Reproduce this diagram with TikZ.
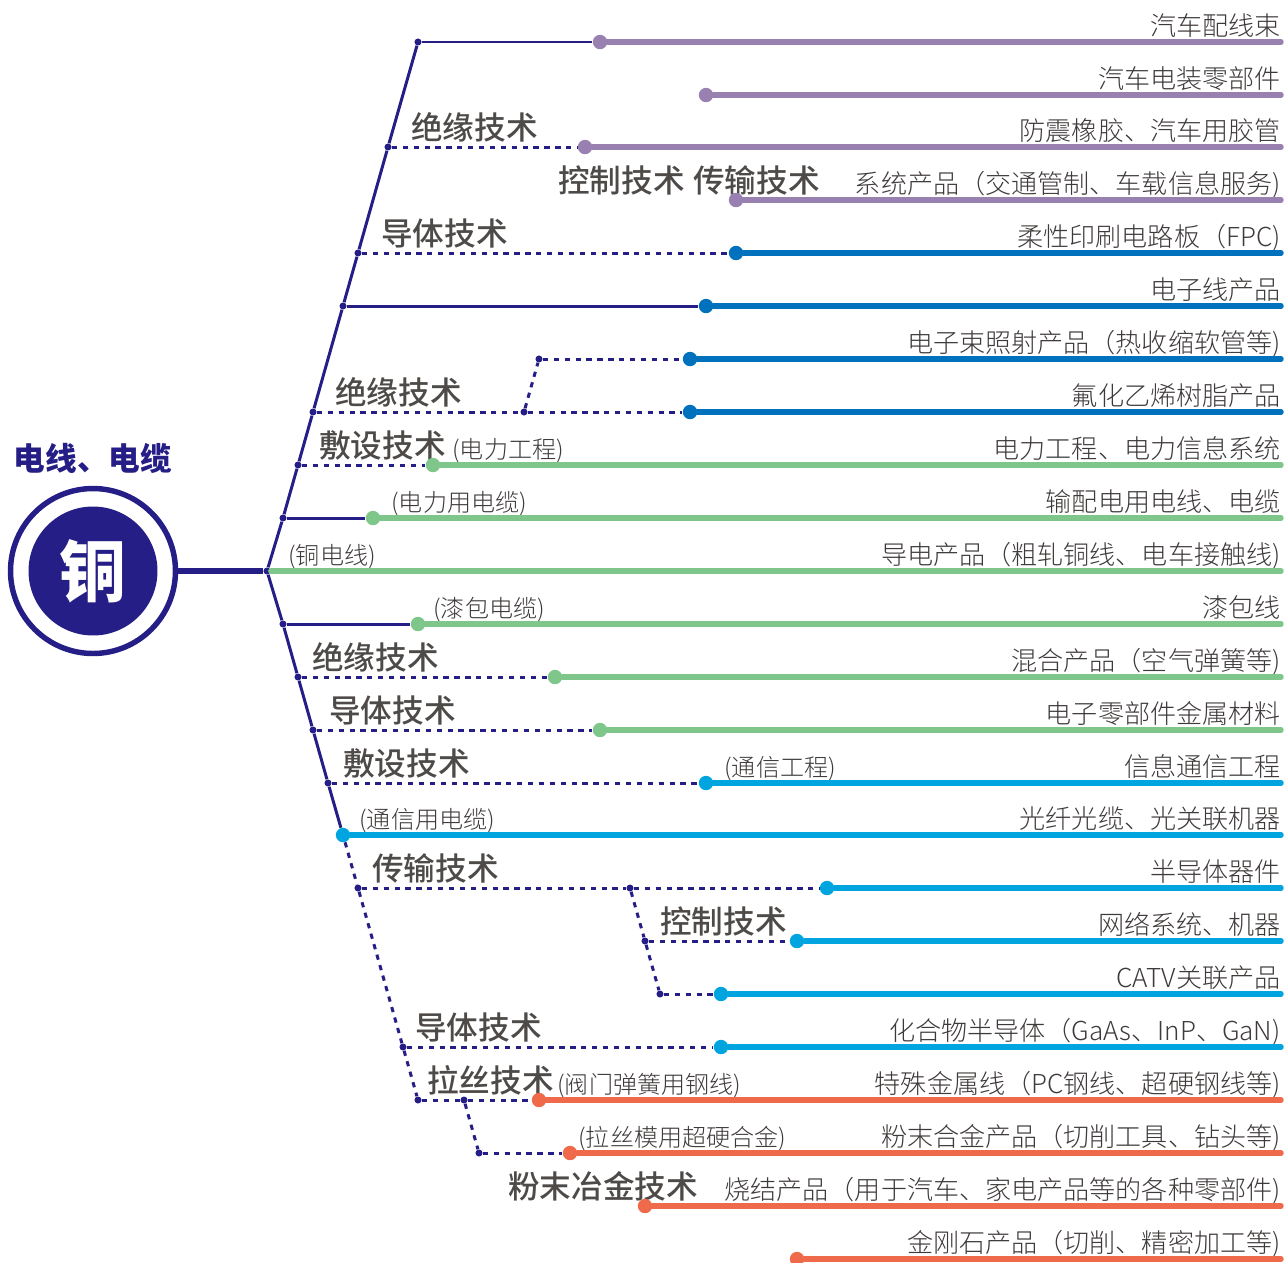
\documentclass[tikz,border=0pt]{standalone}
\usepackage{fontspec}
\setmainfont{Noto Sans CJK SC}
\newfontfamily\labelfont{Noto Sans CJK SC Light}
\newfontfamily\headfont{Noto Sans CJK SC Medium}
\usetikzlibrary{positioning}
\definecolor{navy}{RGB}{36,30,134}
\definecolor{lilac}{RGB}{152,128,176}
\definecolor{deepblue}{RGB}{0,113,188}
\definecolor{leaf}{RGB}{127,198,138}
\definecolor{skyblue}{RGB}{0,165,223}
\definecolor{coral}{RGB}{238,106,75}
\definecolor{headgray}{RGB}{77,74,72}
\definecolor{labelgray}{RGB}{62,58,57}
\tikzset{
  joint/.style={circle, fill=navy, inner sep=0pt, minimum size=4pt},
  bulb/.style={circle, fill=#1, inner sep=0pt, minimum size=8.2pt},
  stem/.style={navy, line width=1.7pt},
  dots/.style={navy, line width=1.7pt, dash pattern=on 3pt off 3.2pt},
  band/.style={#1, line width=3.1pt, line cap=round},
  head/.style={anchor=base west, inner sep=0pt, yshift=0.03cm, text=headgray, font=\headfont\fontsize{18pt}{20pt}\selectfont},
  prod/.style={anchor=base east, inner sep=0pt, yshift=0.02cm, text=labelgray, font=\labelfont\fontsize{14.85pt}{17pt}\selectfont},
  note/.style={anchor=base west, inner sep=0pt, yshift=0.02cm, text=labelgray, font=\labelfont\fontsize{13.7pt}{15pt}\selectfont}
}
\begin{document}
\begin{tikzpicture}[x=0.02cm, y=-0.02cm]
        \useasboundingbox (0,0) rectangle (1285,1262);

        % centre
        \node[circle, draw=navy, line width=3.1pt, fill=white, minimum size=3.3cm, inner sep=0pt] at (93,571) (ring) {};
        \node[circle, fill=navy, minimum size=2.58cm, inner sep=0pt, text=white, font=\bfseries\fontsize{38pt}{40pt}\selectfont] at (93,571) (core) {铜};
        \node[anchor=base, inner sep=0pt, text=navy, font=\bfseries\fontsize{18pt}{20pt}\selectfont] at (93,470) (title) {电线、电缆};

        % right hand texts
        \node[prod] at (1281,36) (p42) {汽车配线束};
        \node[prod] at (1281,89) (p95) {汽车电装零部件};
        \node[prod] at (1281,141) (p147) {防震橡胶、汽车用胶管};
        \node[prod] at (1281,194) (p200) {系统产品（交通管制、车载信息服务)};
        \node[prod] at (1281,247) (p253) {柔性印刷电路板（FPC)};
        \node[prod] at (1281,300) (p306) {电子线产品};
        \node[prod] at (1281,353) (p359) {电子束照射产品（热收缩软管等)};
        \node[prod] at (1281,406) (p412) {氟化乙烯树脂产品};
        \node[prod] at (1281,459) (p465) {电力工程、电力信息系统};
        \node[prod] at (1281,512) (p518) {输配电用电线、电缆};
        \node[prod] at (1281,565) (p571) {导电产品（粗轧铜线、电车接触线)};
        \node[prod] at (1281,618) (p624) {漆包线};
        \node[prod] at (1281,671) (p677) {混合产品（空气弹簧等)};
        \node[prod] at (1281,724) (p730) {电子零部件金属材料};
        \node[prod] at (1281,777) (p783) {信息通信工程};
        \node[prod] at (1281,829) (p835) {光纤光缆、光关联机器};
        \node[prod] at (1281,882) (p888) {半导体器件};
        \node[prod] at (1281,935) (p941) {网络系统、机器};
        \node[prod] at (1281,988) (p994) {CATV关联产品};
        \node[prod] at (1281,1041) (p1047) {化合物半导体（GaAs、InP、GaN)};
        \node[prod] at (1281,1094) (p1100) {特殊金属线（PC钢线、超硬钢线等)};
        \node[prod] at (1281,1147) (p1153) {粉末合金产品（切削工具、钻头等)};
        \node[prod] at (1281,1200) (p1206) {烧结产品（用于汽车、家电产品等的各种零部件)};
        \node[prod] at (1281,1253) (p1259) {金刚石产品（切削、精密加工等)};

        % technique headings
        \node[head] at (411,141) (h147) {绝缘技术};
        \node[head] at (558,194) (h200a) {控制技术};
        \node[head] at (693,194) (h200b) {传输技术};
        \node[head] at (381,247) (h253) {导体技术};
        \node[head] at (335,406) (h412) {绝缘技术};
        \node[head] at (319,459) (h465) {敷设技术};
        \node[head] at (312,671) (h677) {绝缘技术};
        \node[head] at (329,724) (h730) {导体技术};
        \node[head] at (343,777) (h783) {敷设技术};
        \node[head] at (372,882) (h888) {传输技术};
        \node[head] at (660,935) (h941) {控制技术};
        \node[head] at (415,1041) (h1047) {导体技术};
        \node[head] at (427,1094) (h1100) {拉丝技术};
        \node[head] at (508,1200) (h1206) {粉末冶金技术};

        % small notes
        \node[note] at (452,459) (n465) {(电力工程)};
        \node[note] at (391,512) (n518) {(电力用电缆)};
        \node[note] at (288,565) (n571) {(铜电线)};
        \node[note] at (433,618) (n624) {(漆包电缆)};
        \node[note] at (724,777) (n783) {(通信工程)};
        \node[note] at (359,829) (n835) {(通信用电缆)};
        \node[note] at (557,1094) (n1100) {(阀门弹簧用钢线)};
        \node[note] at (578,1147) (n1153) {(拉丝模用超硬合金)};

        % spine joints
        \node[joint] at (267,571) (j0) {};
        \node[joint] at (418,42) (u42) {};
        \node[joint] at (388,147) (u147) {};
        \node[joint] at (358,253) (u253) {};
        \node[joint] at (343,306) (u306) {};
        \node[joint] at (313,412) (u412) {};
        \node[joint] at (524,412) (v412) {};
        \node[joint] at (539,359) (v359) {};
        \node[joint] at (298,465) (u465) {};
        \node[joint] at (283,518) (u518) {};
        \node[joint] at (283,624) (d624) {};
        \node[joint] at (298,677) (d677) {};
        \node[joint] at (313,730) (d730) {};
        \node[joint] at (328,783) (d783) {};
        \node[joint] at (358,888) (d888) {};
        \node[joint] at (630,888) (w888) {};
        \node[joint] at (645,941) (w941) {};
        \node[joint] at (660,994) (w994) {};
        \node[joint] at (403,1047) (d1047) {};
        \node[joint] at (418,1100) (d1100) {};
        \node[joint] at (464,1100) (x1100) {};
        \node[joint] at (479,1153) (x1153) {};

        % coloured bulbs
        \node[bulb=lilac] at (600,42) (b42) {};
        \node[bulb=lilac] at (706,95) (b95) {};
        \node[bulb=lilac] at (585,147) (b147) {};
        \node[bulb=lilac] at (736,200) (b200) {};
        \node[bulb=deepblue] at (736,253) (b253) {};
        \node[bulb=deepblue] at (706,306) (b306) {};
        \node[bulb=deepblue] at (690,359) (b359) {};
        \node[bulb=deepblue] at (690,412) (b412) {};
        \node[bulb=leaf] at (433,465) (b465) {};
        \node[bulb=leaf] at (373,518) (b518) {};
        \node[bulb=leaf] at (418,624) (b624) {};
        \node[bulb=leaf] at (555,677) (b677) {};
        \node[bulb=leaf] at (600,730) (b730) {};
        \node[bulb=skyblue] at (706,783) (b783) {};
        \node[bulb=skyblue] at (343,835) (b835) {};
        \node[bulb=skyblue] at (827,888) (b888) {};
        \node[bulb=skyblue] at (797,941) (b941) {};
        \node[bulb=skyblue] at (721,994) (b994) {};
        \node[bulb=skyblue] at (721,1047) (b1047) {};
        \node[bulb=coral] at (539,1100) (b1100) {};
        \node[bulb=coral] at (570,1153) (b1153) {};
        \node[bulb=coral] at (645,1206) (b1206) {};
        \node[bulb=coral] at (797,1259) (b1259) {};

        % free line ends at the right margin
        \coordinate (e42) at (1281,42);
        \coordinate (e95) at (1281,95);
        \coordinate (e147) at (1281,147);
        \coordinate (e200) at (1281,200);
        \coordinate (e253) at (1281,253);
        \coordinate (e306) at (1281,306);
        \coordinate (e359) at (1281,359);
        \coordinate (e412) at (1281,412);
        \coordinate (e465) at (1281,465);
        \coordinate (e518) at (1281,518);
        \coordinate (e571) at (1281,571);
        \coordinate (e624) at (1281,624);
        \coordinate (e677) at (1281,677);
        \coordinate (e730) at (1281,730);
        \coordinate (e783) at (1281,783);
        \coordinate (e835) at (1281,835);
        \coordinate (e888) at (1281,888);
        \coordinate (e941) at (1281,941);
        \coordinate (e994) at (1281,994);
        \coordinate (e1047) at (1281,1047);
        \coordinate (e1100) at (1281,1100);
        \coordinate (e1153) at (1281,1153);
        \coordinate (e1206) at (1281,1206);
        \coordinate (e1259) at (1281,1259);

        % spine
        \draw [navy, line width=3pt] (ring) -- (j0);
        \draw [stem] (j0) -- (u518);
        \draw [stem] (u518) -- (u465);
        \draw [stem] (u465) -- (u412);
        \draw [stem] (u412) -- (u306);
        \draw [stem] (u306) -- (u253);
        \draw [stem] (u253) -- (u147);
        \draw [stem] (u147) -- (u42);
        \draw [stem] (j0) -- (d624);
        \draw [stem] (d624) -- (d677);
        \draw [stem] (d677) -- (d730);
        \draw [stem] (d730) -- (d783);
        \draw [stem] (d783) -- (b835);
        \draw [dots] (b835) -- (d888);
        \draw [dots] (d888) -- (d1047);
        \draw [dots] (d1047) -- (d1100);

        % branches
        \draw [stem] (u42) -- (b42);
        \draw [dots] (u147) -- (b147);
        \draw [dots] (u253) -- (b253);
        \draw [stem] (u306) -- (b306);
        \draw [dots] (u412) -- (v412);
        \draw [dots] (v412) -- (b412);
        \draw [dots] (v412) -- (v359);
        \draw [dots] (v359) -- (b359);
        \draw [dots] (u465) -- (b465);
        \draw [stem] (u518) -- (b518);
        \draw [stem] (d624) -- (b624);
        \draw [dots] (d677) -- (b677);
        \draw [dots] (d730) -- (b730);
        \draw [dots] (d783) -- (b783);
        \draw [dots] (d888) -- (w888);
        \draw [dots] (w888) -- (b888);
        \draw [dots] (w888) -- (w941);
        \draw [dots] (w941) -- (b941);
        \draw [dots] (w941) -- (w994);
        \draw [dots] (w994) -- (b994);
        \draw [dots] (d1047) -- (b1047);
        \draw [dots] (d1100) -- (x1100);
        \draw [dots] (x1100) -- (b1100);
        \draw [dots] (x1100) -- (x1153);
        \draw [dots] (x1153) -- (b1153);

        % coloured bands
        \draw [band=lilac] (b42) -- (e42);
        \draw [band=lilac] (b95) -- (e95);
        \draw [band=lilac] (b147) -- (e147);
        \draw [band=lilac] (b200) -- (e200);
        \draw [band=deepblue] (b253) -- (e253);
        \draw [band=deepblue] (b306) -- (e306);
        \draw [band=deepblue] (b359) -- (e359);
        \draw [band=deepblue] (b412) -- (e412);
        \draw [band=leaf] (b465) -- (e465);
        \draw [band=leaf] (b518) -- (e518);
        \draw [band=leaf] (j0) -- (e571);
        \draw [band=leaf] (b624) -- (e624);
        \draw [band=leaf] (b677) -- (e677);
        \draw [band=leaf] (b730) -- (e730);
        \draw [band=skyblue] (b783) -- (e783);
        \draw [band=skyblue] (b835) -- (e835);
        \draw [band=skyblue] (b888) -- (e888);
        \draw [band=skyblue] (b941) -- (e941);
        \draw [band=skyblue] (b994) -- (e994);
        \draw [band=skyblue] (b1047) -- (e1047);
        \draw [band=coral] (b1100) -- (e1100);
        \draw [band=coral] (b1153) -- (e1153);
        \draw [band=coral] (b1206) -- (e1206);
        \draw [band=coral] (b1259) -- (e1259);
\end{tikzpicture}
\end{document}
